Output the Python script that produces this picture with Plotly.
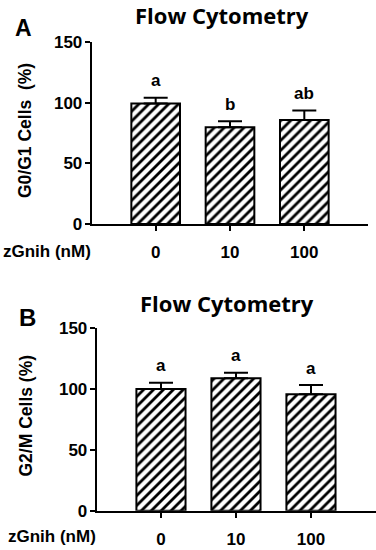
import plotly.graph_objects as go

categories = ["0", "10", "100"]
g0g1_mean = [99.5, 79.8, 85.9]
g0g1_err = [4.8, 5.0, 7.7]
g0g1_letters = ["a", "b", "ab"]
g2m_mean = [99.8, 108.5, 95.4]
g2m_err = [5.1, 4.6, 7.6]
g2m_letters = ["a", "a", "a"]
y_ticks = [0, 50, 100, 150]

W, H = 376, 550
FONT = "Liberation Sans, Arial, sans-serif"
TITLE_FONT = "Open Sans, Lato, sans-serif"

fig = go.Figure()

def add_panel(means, errs, xa, ya):
    fig.add_trace(go.Bar(
        x=categories, y=means, xaxis=xa, yaxis=ya, width=0.655,
        marker=dict(color="white", line=dict(color="black", width=2),
                    pattern=dict(shape="/", fgcolor="black", bgcolor="white",
                                 size=7, solidity=0.4)),
        error_y=dict(type="data", symmetric=False, array=errs,
                     arrayminus=[0] * len(errs), color="black",
                     thickness=2, width=12),
        showlegend=False, hoverinfo="skip"))

add_panel(g0g1_mean, g0g1_err, "x", "y")
add_panel(g2m_mean, g2m_err, "x2", "y2")

axis_common = dict(showline=True, linecolor="black", linewidth=2,
                   ticks="outside", tickcolor="black", tickwidth=2,
                   showgrid=False, zeroline=False, automargin=False,
                   tickfont=dict(family=FONT, size=17, color="black", weight="bold"))

fig.update_layout(
    template="none",
    width=W, height=H, margin=dict(l=0, r=0, t=0, b=0, pad=0),
    paper_bgcolor="white", plot_bgcolor="white", bargap=0.3,
    xaxis=dict(domain=[91.7 / W, 368 / W], anchor="y", range=[-0.861, 2.857],
               type="category", ticklen=5, ticklabelstandoff=7, **axis_common),
    yaxis=dict(domain=[1 - 224 / H, 1 - 42.3 / H], anchor="x", range=[0, 150],
               tickvals=y_ticks, ticklen=5, ticklabelstandoff=-1, **axis_common),
    xaxis2=dict(domain=[96.7 / W, 1.0], anchor="y2", range=[-0.857, 2.867],
                type="category", ticklen=5, ticklabelstandoff=7, **axis_common),
    yaxis2=dict(domain=[1 - 510.7 / H, 1 - 327.7 / H], anchor="x2", range=[0, 150],
                tickvals=y_ticks, ticklen=5, ticklabelstandoff=-1, **axis_common),
)

# significance letters above error bars (x given as category index)
for letters, means, errs, xa, ya in [(g0g1_letters, g0g1_mean, g0g1_err, "x", "y"),
                                     (g2m_letters, g2m_mean, g2m_err, "x2", "y2")]:
    for i, (l, m, e) in enumerate(zip(letters, means, errs)):
        fig.add_annotation(x=i, y=m + e, xref=xa, yref=ya, text=l, showarrow=False,
                           yanchor="middle", yshift=17,
                           font=dict(family=FONT, size=17, color="black", weight="bold"))

def paper_ann(text, px, py, size, family, angle=0):
    fig.add_annotation(x=px / W, y=1 - py / H, xref="paper", yref="paper", text=text,
                       showarrow=False, xanchor="center", yanchor="middle", textangle=angle,
                       font=dict(family=family, size=size, color="black", weight="bold"))

paper_ann("Flow Cytometry", 221.7, 15, 22, TITLE_FONT)
paper_ann("Flow Cytometry", 226.7, 303, 22, TITLE_FONT)
paper_ann("A", 23, 28.5, 23, FONT)
paper_ann("B", 27.5, 317.5, 24, FONT)
paper_ann("G0/G1 Cells\u00a0\u00a0(%)", 25, 131, 17.5, FONT, -90)
paper_ann("G2/M Cells (%)", 25, 415.5, 17.5, FONT, -90)
paper_ann("zGnih (nM)", 46.5, 251.7, 17, FONT)
paper_ann("zGnih (nM)", 52.5, 536.7, 17, FONT)

fig.write_html("out.html", config={"displayModeBar": False},
               post_script="document.body.style.margin='0';")
